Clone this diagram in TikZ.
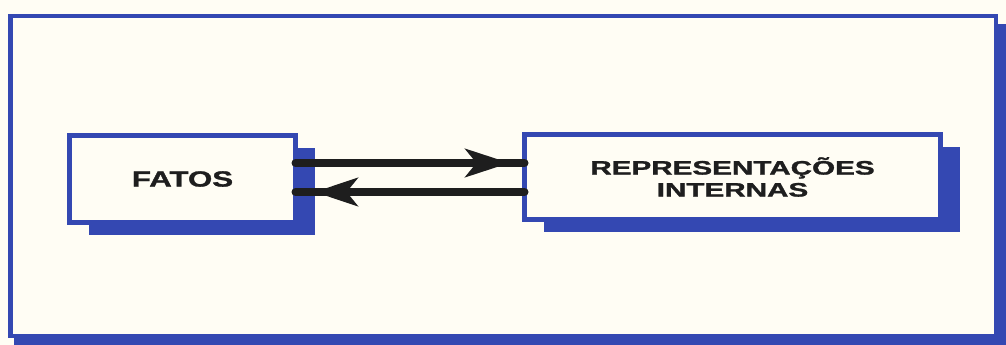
\documentclass[tikz,border=0pt]{standalone}
\usepackage{fontspec}
\usepackage{graphicx}
\setmainfont{Liberation Sans}
\newfontfamily\heavyfont{Liberation Sans Bold}[FakeBold=1.2]
\newcommand{\wide}[2]{\scalebox{#1}[1]{#2}}
\usetikzlibrary{arrows.meta,shadows,decorations.markings}
\definecolor{frameblue}{RGB}{52,72,178}
\definecolor{paper}{RGB}{255,253,244}
\definecolor{ink}{RGB}{30,30,30}
\tikzset{
  boxnode/.style={draw=frameblue, line width=5pt, fill=paper, outer sep=0pt,
    inner sep=0pt, align=center, text=ink,
    drop shadow={shadow xshift=19pt, shadow yshift=-12pt, fill=frameblue, opacity=1}},
  conn/.style={draw=ink, line width=8pt, line cap=round},
  headfwd/.style={postaction={decorate, decoration={markings,
    mark=at position -15pt with {\arrow{Stealth[length=44pt,width=28pt,inset=11pt]}}}}},
  headback/.style={postaction={decorate, decoration={markings,
    mark=at position -19pt with {\arrow{Stealth[length=43pt,width=28pt,inset=11pt]}}}}}
}
\begin{document}
\begin{tikzpicture}[x=1pt,y=-1pt]
\useasboundingbox (0,0) rectangle (1006,345);
\fill[paper] (0,0) rectangle (1006,345);
% outer frame with shadow
\fill[frameblue] (14,24) rectangle (1006,345);
\draw[frameblue, line width=4.5pt, fill=paper] (10.5,16) rectangle (996,336);
% boxes
\node[boxnode, minimum width=226pt, minimum height=87pt,
  font=\heavyfont\fontsize{22}{25}\selectfont] (fatos) at (182.5,179) {\wide{1.42}{FATOS}};
\node[boxnode, minimum width=416pt, minimum height=85pt,
  font=\heavyfont\fontsize{19.5}{22}\selectfont] (rep) at (732.5,177)
  {\wide{1.52}{REPRESENTAÇÕES}\\\wide{1.52}{INTERNAS}};
% connectors
\draw[conn, headfwd] ([yshift=16pt]fatos.east) -- ([yshift=16pt]fatos.east -| rep.west);
\draw[conn, headback] ([yshift=-13pt]fatos.east -| rep.west) -- ([yshift=-13pt]fatos.east);
\end{tikzpicture}
\end{document}
